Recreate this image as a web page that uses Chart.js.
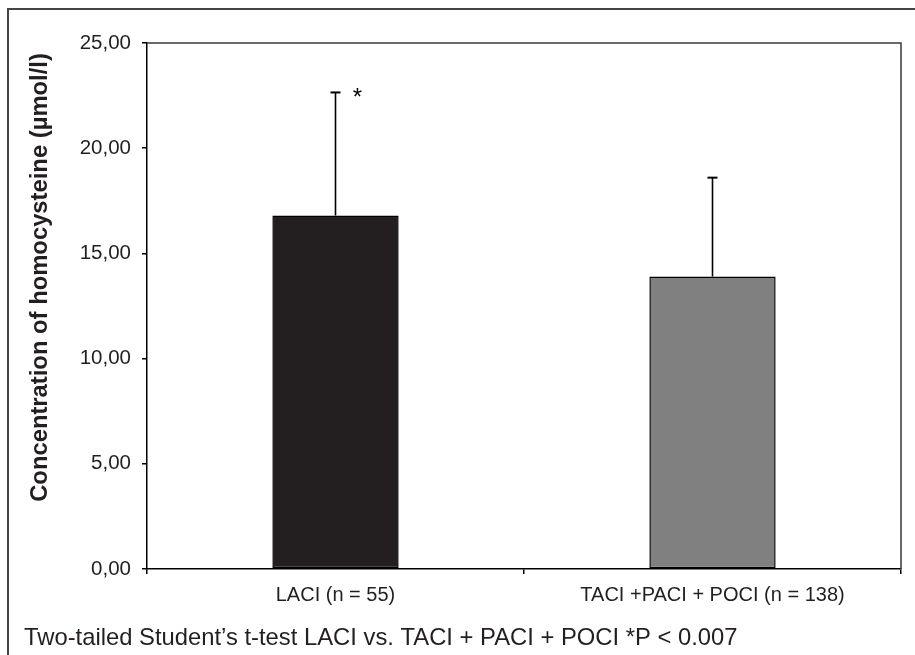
<!DOCTYPE html>
<html>
<head>
<meta charset="utf-8">
<script src="https://cdn.jsdelivr.net/npm/chart.js@4.4.1/dist/chart.umd.min.js"></script>
<style>
html,body{margin:0;padding:0;background:#fff;}
#wrap{width:915px;height:655px;position:relative;}
</style>
</head>
<body>
<div id="wrap"><canvas id="c" width="915" height="655"></canvas></div>
<script>
// ---- data ----
const categories = ["LACI (n = 55)", "TACI +PACI + POCI (n = 138)"];
const meanValues = [16.8, 13.9];
const sdValues = [5.85, 4.7];
const significance = ["*", ""];
const yTicks = [0, 5, 10, 15, 20, 25];
const yTitle = "Concentration of homocysteine (\u00b5mol/l)";
const footnote = "Two-tailed Student\u2019s t-test LACI vs. TACI + PACI + POCI *P < 0.007";
const barColors = ["#231f20", "#808080"];

const FONT = "'Liberation Sans', Arial, Helvetica, sans-serif";
const TXT = "#231f20";

const extras = {
  id: "extras",
  afterDatasetsDraw(chart) {
    const ctx = chart.ctx;
    const ca = chart.chartArea;
    const xs = chart.scales.x, ys = chart.scales.y;
    ctx.save();
    // outer frame (left and top visible)
    ctx.strokeStyle = "#444";
    ctx.lineWidth = 2;
    ctx.beginPath();
    ctx.moveTo(8, 655);
    ctx.lineTo(8, 9);
    ctx.lineTo(915, 9);
    ctx.stroke();
    // plot frame top & right
    ctx.strokeStyle = "#3a3a3a";
    ctx.lineWidth = 1.5;
    ctx.beginPath();
    ctx.moveTo(ca.left, ca.top);
    ctx.lineTo(ca.right, ca.top);
    ctx.lineTo(ca.right, ca.bottom);
    ctx.stroke();
    // error bars
    ctx.strokeStyle = "#000";
    meanValues.forEach((m, i) => {
      const x = xs.getPixelForValue(i);
      const y0 = ys.getPixelForValue(m);
      const y1 = ys.getPixelForValue(m + sdValues[i]);
      ctx.lineWidth = 1.6;
      ctx.beginPath();
      ctx.moveTo(x, y0);
      ctx.lineTo(x, y1);
      ctx.stroke();
      ctx.lineWidth = 2;
      ctx.beginPath();
      ctx.moveTo(x - 5, y1);
      ctx.lineTo(x + 5, y1);
      ctx.stroke();
      if (significance[i]) {
        ctx.fillStyle = "#000";
        ctx.font = "24px " + FONT;
        ctx.textAlign = "center";
        ctx.textBaseline = "alphabetic";
        ctx.fillText(significance[i], x + 22, y1 + 13);
      }
    });
    // y title
    ctx.fillStyle = TXT;
    ctx.font = "bold 23.8px " + FONT;
    ctx.textAlign = "center";
    ctx.textBaseline = "alphabetic";
    ctx.translate(47, 277.5);
    ctx.rotate(-Math.PI / 2);
    ctx.fillText(yTitle, 0, 0);
    ctx.restore();
    // footnote
    ctx.save();
    ctx.fillStyle = TXT;
    ctx.font = "23.8px " + FONT;
    ctx.textAlign = "left";
    ctx.textBaseline = "alphabetic";
    ctx.fillText(footnote, 24, 644.5);
    ctx.restore();
  }
};

new Chart(document.getElementById("c"), {
  type: "bar",
  data: {
    labels: categories,
    datasets: [{
      data: meanValues,
      backgroundColor: barColors,
      borderColor: "#000",
      borderWidth: 1.5,
      borderSkipped: false,
      categoryPercentage: 1,
      barPercentage: 0.335
    }]
  },
  options: {
    responsive: false,
    devicePixelRatio: 1,
    animation: false,
    layout: { padding: { left: 0, top: 43, right: 14, bottom: 0 } },
    plugins: { legend: { display: false }, tooltip: { enabled: false }, title: { display: false } },
    scales: {
      x: {
        offset: true,
        grid: { drawOnChartArea: false, tickLength: 5, tickColor: "#000", lineWidth: 1.5, offset: true },
        border: { color: "#000", width: 1.5 },
        ticks: { color: TXT, font: { family: FONT, size: 20 }, padding: 9, maxRotation: 0, autoSkip: false },
        afterFit(s) { s.height = 86; }
      },
      y: {
        min: 0, max: 25,
        afterBuildTicks(s) { s.ticks = yTicks.map(v => ({ value: v })); },
        grid: { drawOnChartArea: false, tickLength: 5, tickColor: "#000", lineWidth: 1.5 },
        border: { color: "#000", width: 1.5 },
        ticks: {
          color: TXT, font: { family: FONT, size: 20.5 }, padding: 11,
          callback: v => v.toFixed(2).replace(".", ",")
        },
        afterFit(s) { s.width = 147; }
      }
    }
  },
  plugins: [extras]
});
</script>
</body>
</html>
